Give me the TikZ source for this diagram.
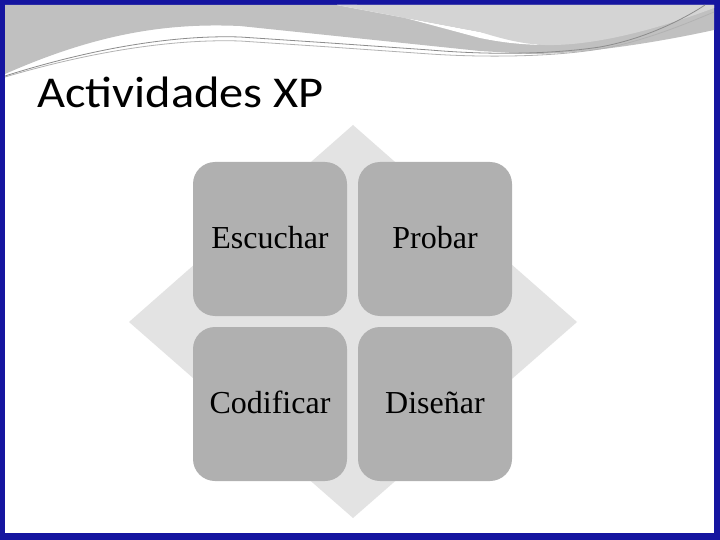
\documentclass[tikz,border=0pt]{standalone}
\usepackage{fontspec}
\setmainfont{Liberation Serif}
\newfontfamily\titlefont{Carlito}
\definecolor{frameblue}{HTML}{1515A0}
\definecolor{bandgray}{HTML}{C0C0C0}
\definecolor{lightgray2}{HTML}{D4D4D4}
\definecolor{diamondgray}{HTML}{E3E3E3}
\definecolor{cellgray}{HTML}{B0B0B0}
\tikzset{
  cell/.style={fill=cellgray, rounded corners=22pt, minimum width=154pt, minimum height=154pt,
    inner sep=0pt, text height=24pt, text depth=6pt, font=\fontsize{32}{38}\selectfont, text=black},
  thinline/.style={line width=0.8pt},
}
\begin{document}
\begin{tikzpicture}[x=1pt,y=-1pt]
\useasboundingbox (0,0) rectangle (720,540);
% frame
\fill[frameblue] (0,0) rectangle (720,540);
\fill[white] (5,5) rectangle (714,533);
% swoosh
\fill[bandgray] (5,5) -- (714,5) -- (714,30) .. controls (650,44) and (580,54) .. (530,54)
  -- (480,51) -- (240,26) .. controls (170,23) and (100,32) .. (5,74) -- cycle;
\fill[white] (337,5) -- (357,5) -- (480,38) .. controls (500,42) and (515,44) .. (540,45)
  -- (480,32) -- cycle;
\fill[lightgray2] (337,5) -- (714,5) -- (714,8) .. controls (650,32) and (590,46) .. (545,45)
  .. controls (520,44) and (500,38) .. (480,32) -- cycle;
\draw[thinline, color=black!45] (5,76) .. controls (100,46) and (180,35) .. (240,37)
  -- (330,43) -- (430,50) .. controls (500,56) and (560,53) .. (600,47)
  .. controls (650,38) and (690,15) .. (705,5);
\draw[thinline, color=black!30] (5,77) .. controls (100,49) and (180,39) .. (240,41)
  -- (330,47) -- (430,54) .. controls (490,58) and (570,57) .. (620,45)
  .. controls (660,35) and (695,20) .. (714,12);
% title
\node[anchor=base west, inner sep=0pt, font=\titlefont\fontsize{44}{52}\selectfont] (title) at (37,108) {\scalebox{1.1}[1]{Actividades XP}};
% diamond
\fill[diamondgray] (353,125) -- (577,322) -- (353,518) -- (129,322) -- cycle;
% cells
\node[cell] (esc) at (270,239) {Escuchar};
\node[cell] (pro) at (435,239) {Probar};
\node[cell] (cod) at (270,404) {Codificar};
\node[cell] (dis) at (435,404) {Diseñar};
\end{tikzpicture}
\end{document}
